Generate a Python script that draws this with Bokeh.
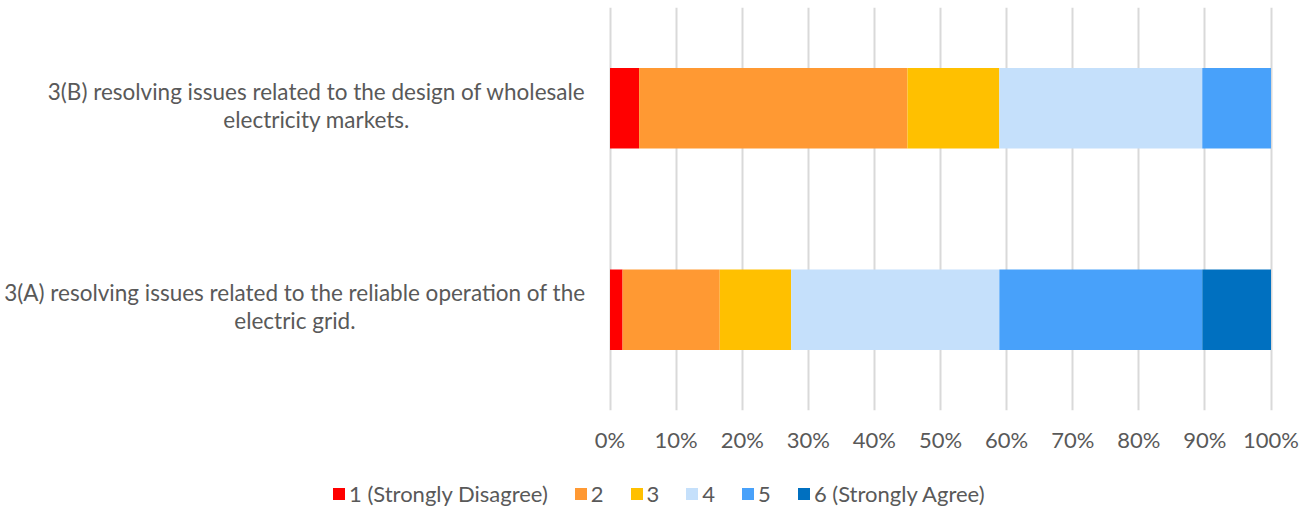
from bokeh.plotting import figure
from bokeh.models import (ColumnDataSource, FactorRange, Range1d, FixedTicker,
                          NumeralTickFormatter, Legend, LegendItem)
from bokeh.layouts import column
from bokeh.core.properties import value
from bokeh.embed import file_html
from bokeh.resources import INLINE

# ---- data ----
categories = [
    "3(A) resolving issues related to the reliable operation of the\nelectric grid.",
    "3(B) resolving issues related to the design of wholesale\nelectricity markets.",
]
series = ["1 (Strongly Disagree)", "2", "3", "4", "5", "6 (Strongly Agree)"]
s1 = [0.019, 0.044]
s2 = [0.147, 0.406]
s3 = [0.108, 0.139]
s4 = [0.315, 0.307]
s5 = [0.307, 0.104]
s6 = [0.104, 0.000]
ticks = [0, 0.1, 0.2, 0.3, 0.4, 0.5, 0.6, 0.7, 0.8, 0.9, 1.0]

colors = ["#FF0000", "#FF9933", "#FFC000", "#C5E0FB", "#48A1FA", "#0070C0"]
FONT = "Lato"
TXT = "#595959"
W = 1314

keys = ["s1", "s2", "s3", "s4", "s5", "s6"]
source = ColumnDataSource(dict(y=categories, s1=s1, s2=s2, s3=s3, s4=s4, s5=s5, s6=s6))

p = figure(width=W, height=468, output_backend="svg", toolbar_location=None,
           y_range=FactorRange(factors=categories, range_padding=0),
           x_range=Range1d(-0.9221, 1.0658),
           min_border_left=0, min_border_right=0, min_border_top=7,
           min_border_bottom=58)
p.outline_line_color = None
p.border_fill_color = "white"

renderers = p.hbar_stack(keys, y="y", height=0.4, color=colors, source=source,
                         line_color=None)

# category labels
p.text(x=0, y="y", text="y", source=source, x_offset=-24.5, y_offset=-3,
       anchor="center_right", text_align="center", text_baseline="middle",
       text_font=value(FONT), text_font_size="22.5px", text_color=TXT,
       text_line_height=1.03)

p.yaxis.visible = False
p.ygrid.visible = False

xa = p.xaxis[0]
xa.ticker = FixedTicker(ticks=ticks)
xa.formatter = NumeralTickFormatter(format="0%")
xa.axis_line_color = None
xa.major_tick_line_color = None
xa.minor_tick_line_color = None
xa.major_label_standoff = 9
xa.major_label_text_font = FONT
xa.major_label_text_font_size = "22px"
xa.major_label_text_color = TXT

p.xgrid.ticker = FixedTicker(ticks=ticks)
p.xgrid.grid_line_color = "#D9D9D9"
p.xgrid.grid_line_width = 2

# legend strip below the chart (zero-height, off-range bars only supply swatches)
p2 = figure(width=W, height=42, output_backend="svg", toolbar_location=None,
            y_range=FactorRange(factors=categories), x_range=Range1d(5, 6),
            min_border_left=0, min_border_right=0, min_border_top=0,
            min_border_bottom=0)
p2.outline_line_color = None
p2.axis.visible = False
p2.grid.visible = False
leg_r = p2.hbar_stack(keys, y="y", height=0, color=colors, source=source,
                      line_color=None)

items = [LegendItem(label=s, renderers=[r]) for s, r in zip(series, leg_r)]
legend = Legend(items=items, orientation="horizontal", location=(331, 3),
                padding=0, margin=0, spacing=25, label_standoff=3,
                glyph_width=15, glyph_height=15, label_height=26, label_width=0,
                label_text_font=FONT, label_text_font_size="22px",
                label_text_color=TXT, border_line_color=None,
                background_fill_alpha=0)
p2.add_layout(legend)

layout = column(p, p2, spacing=0)
open("out.html", "w").write(file_html(layout, INLINE))
